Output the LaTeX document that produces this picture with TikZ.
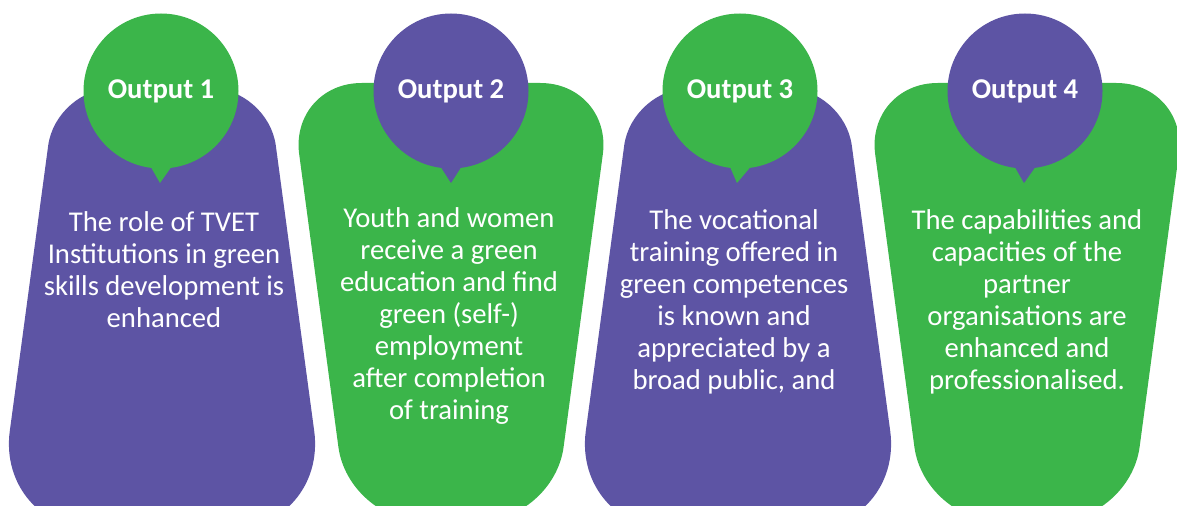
\documentclass[tikz,border=0pt]{standalone}
\usepackage{fontspec}
\setmainfont{Carlito}
\usepackage{xcolor}
\usepackage{tikz}
\usetikzlibrary{positioning}
\definecolor{outpurple}{RGB}{93,84,164}
\definecolor{outgreen}{RGB}{59,181,74}

\begin{document}
\begin{tikzpicture}[x=0.75pt,y=0.75pt,yscale=-1,xscale=1,
  bubble/.style={circle,minimum size=116.25pt,inner sep=0pt,text=white,font=\fontsize{21.5}{26}\selectfont\bfseries},
  bodytext/.style={anchor=north,align=center,inner sep=0pt,text=white,font=\fontsize{21.5}{24}\selectfont}]
\useasboundingbox (0,0) rectangle (1177,506);
\clip (0,0) rectangle (1177,506);

%Rounded trapezoid, purple, wide at the bottom
\fill [outpurple] (113.9,88) -- (210.1,88) .. controls (242.1,88) and (271.5,113.8) .. (275.8,145.5) -- (314.2,430.9) .. controls (321.5,485.4) and (282.6,530) .. (227.6,530) -- (96.4,530) .. controls (41.4,530) and (2.5,485.4) .. (9.8,430.9) -- (48.2,145.5) .. controls (52.5,113.8) and (81.9,88) .. (113.9,88) -- cycle ;
%Rounded trapezoid, green, wide at the top
\fill [outgreen] (361.6,83) -- (540.4,83) .. controls (580.1,83) and (608.1,115) .. (602.8,154.4) -- (563.6,447) .. controls (558.1,488) and (520.1,521.3) .. (478.7,521.3) -- (423.3,521.3) .. controls (382,521.3) and (343.9,488) .. (338.4,447) -- (299.2,154.4) .. controls (293.9,115) and (321.9,83) .. (361.6,83) -- cycle ;
%Rounded trapezoid, purple, wide at the bottom
\fill [outpurple] (689.9,88) -- (786.1,88) .. controls (818.1,88) and (847.5,113.8) .. (851.8,145.5) -- (890.2,430.9) .. controls (897.5,485.4) and (858.6,530) .. (803.6,530) -- (672.4,530) .. controls (617.4,530) and (578.5,485.4) .. (585.8,430.9) -- (624.2,145.5) .. controls (628.5,113.8) and (657.9,88) .. (689.9,88) -- cycle ;
%Rounded trapezoid, green, wide at the top
\fill [outgreen] (937.6,83) -- (1116.4,83) .. controls (1156.1,83) and (1184.1,115) .. (1178.8,154.4) -- (1139.6,447) .. controls (1134.1,488) and (1096.1,521.3) .. (1054.7,521.3) -- (999.4,521.3) .. controls (958,521.3) and (919.9,488) .. (914.4,447) -- (875.2,154.4) .. controls (869.9,115) and (897.9,83) .. (937.6,83) -- cycle ;

% Output bubbles
\node [bubble, fill=outgreen] (out1) at (161,91) {Output 1};
\node [bubble, fill=outpurple] (out2) at (451,91) {Output 2};
\node [bubble, fill=outgreen] (out3) at (740,91) {Output 3};
\node [bubble, fill=outpurple] (out4) at (1025,91) {Output 4};

% Bubble tips
\coordinate (tip1) at (160,183);
\coordinate (tip2) at (451,183);
\coordinate (tip3) at (737,183);
\coordinate (tip4) at (1024,183);
\fill [outgreen] (out1.-97) -- (tip1) -- (out1.-83) -- cycle ;
\fill [outpurple] (out2.-97) -- (tip2) -- (out2.-83) -- cycle ;
\fill [outgreen] (out3.-97) -- (tip3) -- (out3.-83) -- cycle ;
\fill [outpurple] (out4.-97) -- (tip4) -- (out4.-83) -- cycle ;

% Text Node
\node [bodytext] (txt1) at (164,211) {The role of TVET\\Institutions in green\\skills development is\\enhanced};
% Text Node
\node [bodytext] (txt2) at (449,207) {Youth and women\\receive a green\\education and find\\green (self-)\\employment\\after completion\\of training};
% Text Node
\node [bodytext] (txt3) at (734,209) {The vocational\\training offered in\\green competences\\is known and\\appreciated by a\\broad public, and};
% Text Node
\node [bodytext] (txt4) at (1027,209) {The capabilities and\\capacities of the\\partner\\organisations are\\enhanced and\\professionalised.};

\end{tikzpicture}
\end{document}
